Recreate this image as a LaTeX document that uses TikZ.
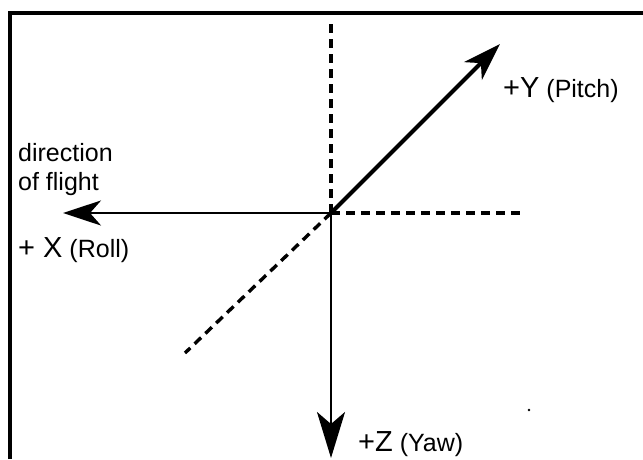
\documentclass[tikz,border=0pt]{standalone}
\usepackage{fontspec}
\setmainfont{Liberation Sans}
\usetikzlibrary{arrows.meta}

\begin{document}
\begin{tikzpicture}[x=1pt, y=-1pt, line cap=butt, line join=miter,
      >={Stealth[length=38pt, width=25pt, inset=11pt]},
      every node/.style={inner sep=0pt},
      axis/.style={->, line width=2.6pt},
      guide/.style={line width=3.4pt, dash pattern=on 9pt off 6pt},
      txt/.style={anchor=base west, font=\fontsize{25}{29}\selectfont}]
    \newcommand{\bigsym}{\fontsize{29}{32}\selectfont}
    \useasboundingbox (0,0) rectangle (643,459);
    % ==== frame ====
    \draw[line width=3.4pt] (10,459) -- (10,13) -- (643,13);
    % ==== axis points ====
    \coordinate (O) at (331,213);
    \coordinate (up) at (331,24);
    \coordinate (right) at (524,213);
    \coordinate (back) at (185,353);
    \coordinate (xtip) at (63,213);
    \coordinate (ytip) at (500,44);
    \coordinate (ztip) at (331,458);
    % dashed guides
    \draw[guide] (up) -- (O);
    \draw[guide] (O) -- (right);
    \draw[guide] (O) -- (back);
    % axes
    \draw[axis] (O) -- (xtip);
    \draw[axis, -{Stealth[length=46pt, width=28pt, inset=12pt]}] (O) -- (ztip);
    \draw[axis, line width=4.2pt] (O) -- (ytip);
    % ==== labels ====
    \node[txt] (dir) at (18,161) {direction};
    \node[txt] (flight) at (18,190) {of flight};
    \node[txt] (xlab) at (18,257) {{\bigsym + X} (Roll)};
    \node[txt] (ylab) at (503,97) {{\bigsym +Y} (Pitch)};
    \node[txt] (zlab) at (358,451) {{\bigsym +Z} (Yaw)};
    % speck
    \fill (529,410) circle (1.3pt);
  \end{tikzpicture}
\end{document}
